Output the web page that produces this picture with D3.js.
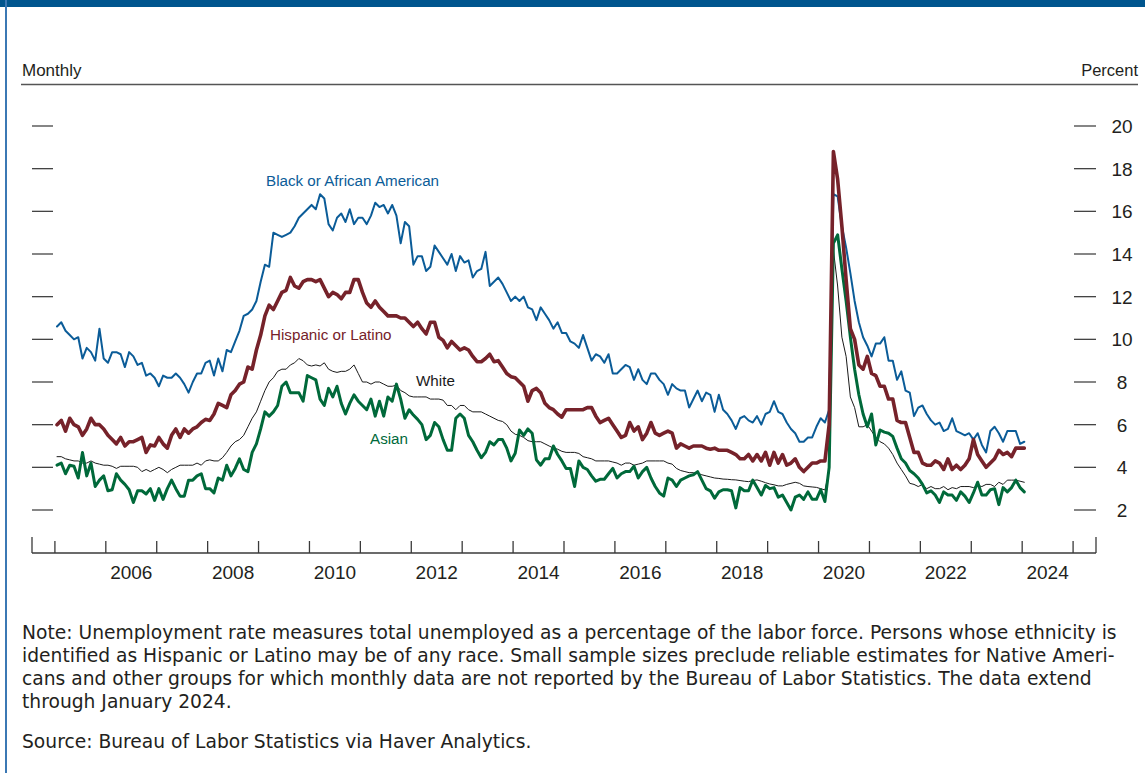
<!DOCTYPE html>
<html>
<head>
<meta charset="utf-8">
<script src="https://cdn.jsdelivr.net/npm/d3@7/dist/d3.min.js"></script>
<style>
  body { margin: 0; background: #fff; }
  svg { display: block; }
</style>
</head>
<body>
<svg></svg>
<script>
// monthly unemployment rates, Jan 2005 - Jan 2024 (one row per year)
var startYear = 2005;

var black = [
  10.6, 10.8, 10.4, 10.2, 10.0, 10.1, 9.1, 9.6, 9.4, 9.0, 10.5, 9.1,
  8.9, 9.4, 9.4, 9.3, 8.7, 9.4, 9.2, 8.8, 8.9, 8.3, 8.4, 8.2,
  7.8, 8.3, 8.2, 8.2, 8.4, 8.2, 7.9, 7.5, 8.0, 8.4, 8.4, 8.9,
  9.0, 8.3, 9.1, 8.5, 9.5, 9.4, 9.9, 10.4, 11.1, 11.2, 11.4, 11.8,
  12.7, 13.5, 13.4, 15.0, 14.9, 14.8, 14.9, 15.0, 15.3, 15.7, 15.9, 16.1,
  16.3, 16.1, 16.8, 16.6, 15.4, 15.1, 15.7, 15.9, 15.5, 16.1, 15.4, 15.7,
  15.7, 15.4, 15.8, 16.4, 16.2, 16.3, 15.9, 16.3, 15.8, 14.5, 15.5, 15.3,
  13.5, 13.9, 13.9, 13.2, 13.4, 14.4, 14.1, 13.8, 13.5, 14.0, 13.2, 13.9,
  13.6, 13.7, 12.9, 13.2, 13.3, 14.1, 12.5, 12.7, 12.9, 12.6, 12.2, 11.8,
  12.0, 11.8, 12.0, 11.5, 11.4, 10.9, 11.5, 11.2, 10.9, 10.5, 10.8, 10.3,
  10.3, 9.9, 9.8, 9.6, 10.2, 9.6, 9.0, 9.3, 9.2, 8.9, 9.3, 8.4,
  8.4, 8.6, 8.8, 8.7, 8.1, 8.6, 8.1, 7.9, 8.4, 8.4, 8.1, 7.9,
  7.4, 7.9, 7.7, 7.6, 7.6, 6.8, 7.2, 7.6, 7.1, 7.5, 7.4, 6.6,
  7.4, 6.7, 6.5, 6.2, 5.8, 6.3, 6.4, 6.2, 6.1, 6.4, 6.0, 6.5,
  6.6, 7.1, 6.6, 6.5, 6.1, 5.8, 5.6, 5.2, 5.2, 5.4, 5.4, 5.9,
  6.3, 6.1, 6.7, 16.8, 16.7, 15.3, 14.3, 13.1, 11.8, 10.8, 10.1, 9.7,
  9.2, 9.8, 9.8, 10.1, 9.0, 9.0, 8.1, 8.5, 7.6, 7.5, 6.4, 6.8,
  6.9, 6.5, 6.2, 6.0, 6.1, 5.7, 5.8, 6.3, 5.7, 5.6, 5.5, 5.6,
  5.3, 5.6, 5.05, 4.7, 5.7, 5.9, 5.6, 5.2, 5.7, 5.7, 5.7, 5.1,
  5.2
];

var hispanic = [
  6.0, 6.2, 5.7, 6.3, 6.0, 5.9, 5.5, 5.8, 6.3, 6.0, 6.0, 5.8,
  5.5, 5.3, 5.1, 5.4, 5.0, 5.2, 5.2, 5.3, 5.4, 4.7, 5.05, 5.0,
  5.4, 5.1, 4.9, 5.5, 5.8, 5.4, 5.8, 5.6, 5.8, 5.9, 6.1, 6.25,
  6.2, 6.5, 7.0, 6.9, 6.8, 7.4, 7.6, 7.9, 8.0, 8.7, 8.6, 9.5,
  10.2, 11.1, 11.6, 11.4, 11.8, 12.2, 12.3, 12.9, 12.5, 12.4, 12.7, 12.8,
  12.8, 12.7, 12.8, 12.4, 12.0, 12.2, 12.1, 11.9, 12.2, 12.2, 12.8, 12.8,
  12.2, 11.7, 11.5, 11.8, 11.5, 11.3, 11.1, 11.1, 11.1, 11.0, 11.0, 10.8,
  10.6, 10.8, 10.5, 10.25, 10.8, 10.8, 10.1, 9.95, 9.6, 9.9, 9.7, 9.5,
  9.6, 9.5, 9.2, 8.95, 8.95, 9.1, 9.3, 8.95, 9.0, 8.7, 8.4, 8.25,
  8.2, 8.0, 7.8, 7.1, 7.6, 7.7, 7.5, 7.0, 6.8, 6.7, 6.5, 6.35,
  6.7, 6.7, 6.7, 6.7, 6.7, 6.8, 6.8, 6.4, 6.1, 6.2, 6.3, 6.0,
  5.7, 5.4, 5.5, 6.1, 5.7, 5.9, 5.3, 5.6, 6.1, 5.6, 5.5, 5.6,
  5.7, 5.6, 4.9, 5.1, 5.0, 4.9, 5.0, 5.0, 5.0, 4.9, 4.85, 4.9,
  4.8, 4.8, 4.8, 4.7, 4.6, 4.4, 4.4, 4.6, 4.3, 4.6, 4.3, 4.7,
  4.1, 4.7, 4.2, 4.6, 4.1, 4.2, 4.4, 4.0, 3.8, 4.0, 4.2, 4.2,
  4.3, 4.3, 6.0, 18.8, 17.5, 15.3, 12.8, 10.5, 10.0, 8.8, 8.6, 9.2,
  8.4, 8.3, 7.8, 7.8, 7.2, 7.2, 6.2, 6.1, 6.1, 5.4, 4.7, 4.7,
  4.2, 4.1, 4.1, 4.3, 4.2, 3.9, 4.4, 3.9, 4.1, 3.9, 4.1, 4.4,
  5.3, 4.6, 4.3, 4.0, 4.2, 4.4, 4.8, 4.6, 4.7, 4.5, 4.9, 4.9,
  4.9
];

var white = [
  4.5, 4.5, 4.4, 4.35, 4.3, 4.3, 4.2, 4.2, 4.3, 4.2, 4.15, 4.1,
  4.1, 4.05, 3.95, 4.05, 4.05, 4.05, 4.05, 4.0, 3.8, 3.9, 3.8, 3.9,
  4.0, 3.9, 3.75, 3.9, 4.0, 4.1, 4.1, 4.1, 4.1, 4.2, 4.1, 4.3,
  4.35, 4.3, 4.3, 4.45, 4.7, 5.0, 5.2, 5.3, 5.5, 5.9, 6.3, 6.6,
  7.1, 7.6, 8.0, 8.2, 8.5, 8.6, 8.6, 8.8, 8.9, 9.1, 9.0, 8.8,
  8.75, 8.8, 8.75, 8.9, 8.6, 8.5, 8.45, 8.5, 8.5, 8.6, 8.8, 8.4,
  8.0, 8.0, 7.9, 8.0, 8.0, 7.9, 7.8, 7.8, 7.85, 7.6, 7.5, 7.35,
  7.3, 7.3, 7.3, 7.3, 7.2, 7.2, 7.2, 7.15, 6.9, 6.9, 6.7, 6.9,
  6.9, 6.7, 6.6, 6.6, 6.6, 6.5, 6.4, 6.3, 6.2, 6.15, 6.0, 5.7,
  5.55, 5.5, 5.4, 5.25, 5.2, 5.2, 5.2, 5.1, 5.0, 4.9, 4.85, 4.75,
  4.7, 4.7, 4.7, 4.65, 4.5, 4.45, 4.4, 4.3, 4.3, 4.3, 4.3, 4.25,
  4.2, 4.1, 4.2, 4.2, 4.1, 4.15, 4.2, 4.3, 4.3, 4.3, 4.3, 4.3,
  4.2, 4.15, 3.95, 3.85, 3.8, 3.75, 3.75, 3.72, 3.65, 3.6, 3.55, 3.5,
  3.48, 3.45, 3.44, 3.42, 3.41, 3.38, 3.35, 3.33, 3.38, 3.41, 3.35, 3.28,
  3.22, 3.18, 3.13, 3.13, 3.2, 3.25, 3.3, 3.25, 3.13, 3.1, 3.08, 3.06,
  3.0, 2.94, 3.8, 14.2, 12.5, 10.1, 9.2, 7.3, 6.8, 5.9, 5.9, 6.0,
  5.7, 5.4, 5.2, 5.1, 4.9, 4.6, 4.2, 3.9, 3.6, 3.25, 3.2, 3.1,
  3.2, 3.0, 3.1, 3.0, 3.0, 3.1, 2.95, 3.05, 3.0, 3.1, 3.1, 3.1,
  3.05, 3.15, 3.1, 3.2, 3.2, 3.1, 3.3, 3.2, 3.4, 3.4, 3.4, 3.35,
  3.3
];

var asian = [
  4.1, 4.2, 3.7, 4.1, 4.05, 3.5, 4.7, 3.6, 4.2, 3.1, 3.4, 3.6,
  2.9, 2.95, 3.7, 3.4, 3.2, 2.95, 2.35, 2.9, 2.9, 2.75, 3.0, 2.45,
  3.0, 2.5, 3.0, 3.4, 3.0, 2.65, 2.65, 3.4, 3.4, 3.6, 3.7, 3.0,
  3.0, 2.8, 3.5, 3.4, 4.1, 3.6, 3.95, 4.4, 3.9, 3.8, 4.7, 5.1,
  5.8, 6.6, 6.4, 6.6, 6.9, 7.8, 8.0, 7.5, 7.5, 7.5, 7.1, 8.3,
  8.2, 8.1, 7.2, 6.9, 7.7, 7.3, 7.8, 7.0, 6.5, 7.0, 7.4, 7.1,
  6.9, 6.7, 7.2, 6.4, 7.1, 6.4, 7.3, 7.1, 7.9, 7.2, 6.3, 6.7,
  6.45, 6.25, 6.0, 5.3, 5.5, 6.1, 5.9, 5.3, 4.8, 4.8, 6.3, 6.5,
  6.3, 5.5, 5.2, 4.8, 4.45, 4.7, 5.2, 5.05, 5.3, 5.3, 4.9, 4.3,
  4.66, 5.75, 5.5, 5.8, 5.6, 4.35, 4.1, 4.4, 4.4, 5.0, 4.6, 4.3,
  3.95, 3.95, 3.1, 4.3, 4.0, 3.9, 3.6, 3.35, 3.44, 3.44, 3.7, 3.95,
  3.5, 3.7, 3.8, 3.8, 4.05, 3.5, 3.8, 4.0, 3.5, 3.1, 2.8, 2.65,
  3.5, 3.4, 3.1, 3.4, 3.5, 3.6, 3.65, 3.8, 3.4, 3.0, 2.9, 2.55,
  2.85, 2.95, 2.95, 2.9, 2.1, 3.05, 2.9, 2.9, 3.4, 3.05, 2.7, 3.15,
  3.0, 3.05, 2.6, 2.7, 2.35, 2.0, 2.6, 2.7, 2.5, 2.85, 2.5, 2.5,
  2.95, 2.4, 4.0, 14.5, 14.9, 13.3, 11.8, 10.1, 8.6, 7.4, 6.5, 5.9,
  6.5, 5.05, 5.75, 5.65, 5.6, 5.45, 4.9, 4.4, 4.2, 3.85, 3.7, 3.5,
  3.2, 2.8, 2.9, 2.7, 2.35, 2.85, 2.7, 2.7, 2.45, 2.85, 2.65, 2.35,
  2.8, 3.3, 2.7, 2.7, 2.95, 3.0, 2.25, 3.05, 2.85, 3.05, 3.4, 3.05,
  2.85
];

var percentTicks = [2, 4, 6, 8, 10, 12, 14, 16, 18, 20];
var yearTicks = [2005, 2006, 2007, 2008, 2009, 2010, 2011, 2012, 2013, 2014, 2015,
  2016, 2017, 2018, 2019, 2020, 2021, 2022, 2023, 2024, 2025];
var yearLabels = [2006, 2008, 2010, 2012, 2014, 2016, 2018, 2020, 2022, 2024];

var seriesNames = ['Black or African American', 'Hispanic or Latino', 'White', 'Asian'];

var noteLines = [
  'Note: Unemployment rate measures total unemployed as a percentage of the labor force. Persons whose ethnicity is',
  'identified as Hispanic or Latino may be of any race. Small sample sizes preclude reliable estimates for Native Ameri-',
  'cans and other groups for which monthly data are not reported by the Bureau of Labor Statistics. The data extend',
  'through January 2024.'
];
var sourceLine = 'Source: Bureau of Labor Statistics via Haver Analytics.';

var svgWidth = 1145;
var svgHeight = 773;
var textColor = '#231f20';
var axisColor = '#3a3a3a';
var sansFont = 'Liberation Sans, Arial, sans-serif';
var noteFont = 'DejaVu Sans, sans-serif';

var svg = d3.select('svg').attr('width', svgWidth).attr('height', svgHeight);

// frame: dark band on top, thin blue rule on the left
svg.append('rect').attr('x', 0).attr('y', 0).attr('width', svgWidth).attr('height', 7).style('fill', '#00558e');
svg.append('rect').attr('x', 5).attr('y', 0).attr('width', 2).attr('height', svgHeight).style('fill', '#3b78b4');

var xScale = d3.scaleLinear()
  .domain([2004.55, 2025.45])
  .range([32, 1096]);

var yScale = d3.scaleLinear()
  .domain([2, 20])
  .range([510, 126]);

// header
svg.append('text')
  .text('Monthly')
  .attr('x', 22).attr('y', 76)
  .style('font-family', sansFont).style('font-size', '17px')
  .style('fill', textColor);

svg.append('text')
  .text('Percent')
  .attr('x', 1138).attr('y', 76)
  .attr('text-anchor', 'end')
  .style('font-family', sansFont).style('font-size', '16.5px')
  .style('fill', textColor);

svg.append('line')
  .attr('x1', 21).attr('x2', 1138).attr('y1', 84.5).attr('y2', 84.5)
  .style('stroke', '#555').style('stroke-width', 1.5);

// y ticks on both sides, labels on the right
var yTickGroup = svg.append('g').classed('yTicks', true);

yTickGroup.selectAll('.leftTick')
  .data(percentTicks)
  .enter()
  .append('line')
  .classed('leftTick', true)
  .attr('x1', 32).attr('x2', 53)
  .attr('y1', (d) => yScale(d)).attr('y2', (d) => yScale(d))
  .style('stroke', '#444').style('stroke-width', 1.3);

yTickGroup.selectAll('.rightTick')
  .data(percentTicks)
  .enter()
  .append('line')
  .classed('rightTick', true)
  .attr('x1', 1074).attr('x2', 1096)
  .attr('y1', (d) => yScale(d)).attr('y2', (d) => yScale(d))
  .style('stroke', '#444').style('stroke-width', 1.3);

yTickGroup.selectAll('.rightLabel')
  .data(percentTicks)
  .enter()
  .append('text')
  .classed('rightLabel', true)
  .attr('x', 1122)
  .attr('y', (d) => yScale(d) + 7)
  .attr('text-anchor', 'middle')
  .style('font-family', sansFont).style('font-size', '19px')
  .style('fill', textColor)
  .text((d) => d);

// x axis
var xAxis = svg.append('g').classed('xAxis', true);

xAxis.append('line')
  .attr('x1', 32).attr('x2', 1096).attr('y1', 553).attr('y2', 553)
  .style('stroke', axisColor).style('stroke-width', 1.5);

xAxis.selectAll('.yearTick')
  .data(yearTicks)
  .enter()
  .append('line')
  .classed('yearTick', true)
  .attr('x1', (d) => xScale(d)).attr('x2', (d) => xScale(d))
  .attr('y1', 541).attr('y2', 553)
  .style('stroke', axisColor).style('stroke-width', 1.3);

xAxis.selectAll('.endTick')
  .data(xScale.domain())
  .enter()
  .append('line')
  .classed('endTick', true)
  .attr('x1', (d) => xScale(d)).attr('x2', (d) => xScale(d))
  .attr('y1', 537).attr('y2', 553)
  .style('stroke', axisColor).style('stroke-width', 1.3);

xAxis.selectAll('.yearLabel')
  .data(yearLabels)
  .enter()
  .append('text')
  .classed('yearLabel', true)
  .attr('x', (d) => xScale(d + 0.5))
  .attr('y', 579)
  .attr('text-anchor', 'middle')
  .style('font-family', sansFont).style('font-size', '19px')
  .style('fill', textColor)
  .text((d) => d);

// lines (mid-month positions)
var line = d3.line()
  .x((d, i) => xScale(startYear + (i + 0.5) / 12))
  .y((d) => yScale(d))
  .curve(d3.curveLinear);

var seriesData = [black, white, asian, hispanic];
var seriesColors = ['#0b5c98', '#1a1a1a', '#00693a', '#76222a'];
var seriesWidths = [2, 1, 3, 3.6];

svg.append('g')
  .classed('lines', true)
  .selectAll('path')
  .data(seriesData)
  .enter()
  .append('path')
  .attr('d', (d) => line(d))
  .style('fill', 'none')
  .style('stroke', (d, i) => seriesColors[i])
  .style('stroke-width', (d, i) => seriesWidths[i])
  .style('stroke-linejoin', 'round')
  .style('stroke-linecap', 'round');

// series labels
var labelSpecs = [
  { name: seriesNames[0], x: 266, y: 186, color: '#0b5c98' },
  { name: seriesNames[1], x: 270, y: 340, color: '#76222a' },
  { name: seriesNames[2], x: 416, y: 386, color: '#1a1a1a' },
  { name: seriesNames[3], x: 370, y: 444, color: '#00693a' }
];

svg.append('g')
  .classed('seriesLabels', true)
  .selectAll('text')
  .data(labelSpecs)
  .enter()
  .append('text')
  .attr('x', (d) => d.x).attr('y', (d) => d.y)
  .style('font-family', sansFont).style('font-size', '15.2px')
  .style('fill', (d) => d.color)
  .text((d) => d.name);

// note and source
var notes = svg.append('g').classed('notes', true);

notes.selectAll('.noteLine')
  .data(noteLines)
  .enter()
  .append('text')
  .classed('noteLine', true)
  .attr('x', 22)
  .attr('y', (d, i) => 639 + i * 23)
  .style('font-family', noteFont).style('font-size', '18.7px')
  .style('fill', textColor)
  .text((d) => d);

notes.append('text')
  .attr('x', 22).attr('y', 748)
  .style('font-family', noteFont).style('font-size', '18.7px')
  .style('fill', textColor)
  .text(sourceLine);
</script>
</body>
</html>
